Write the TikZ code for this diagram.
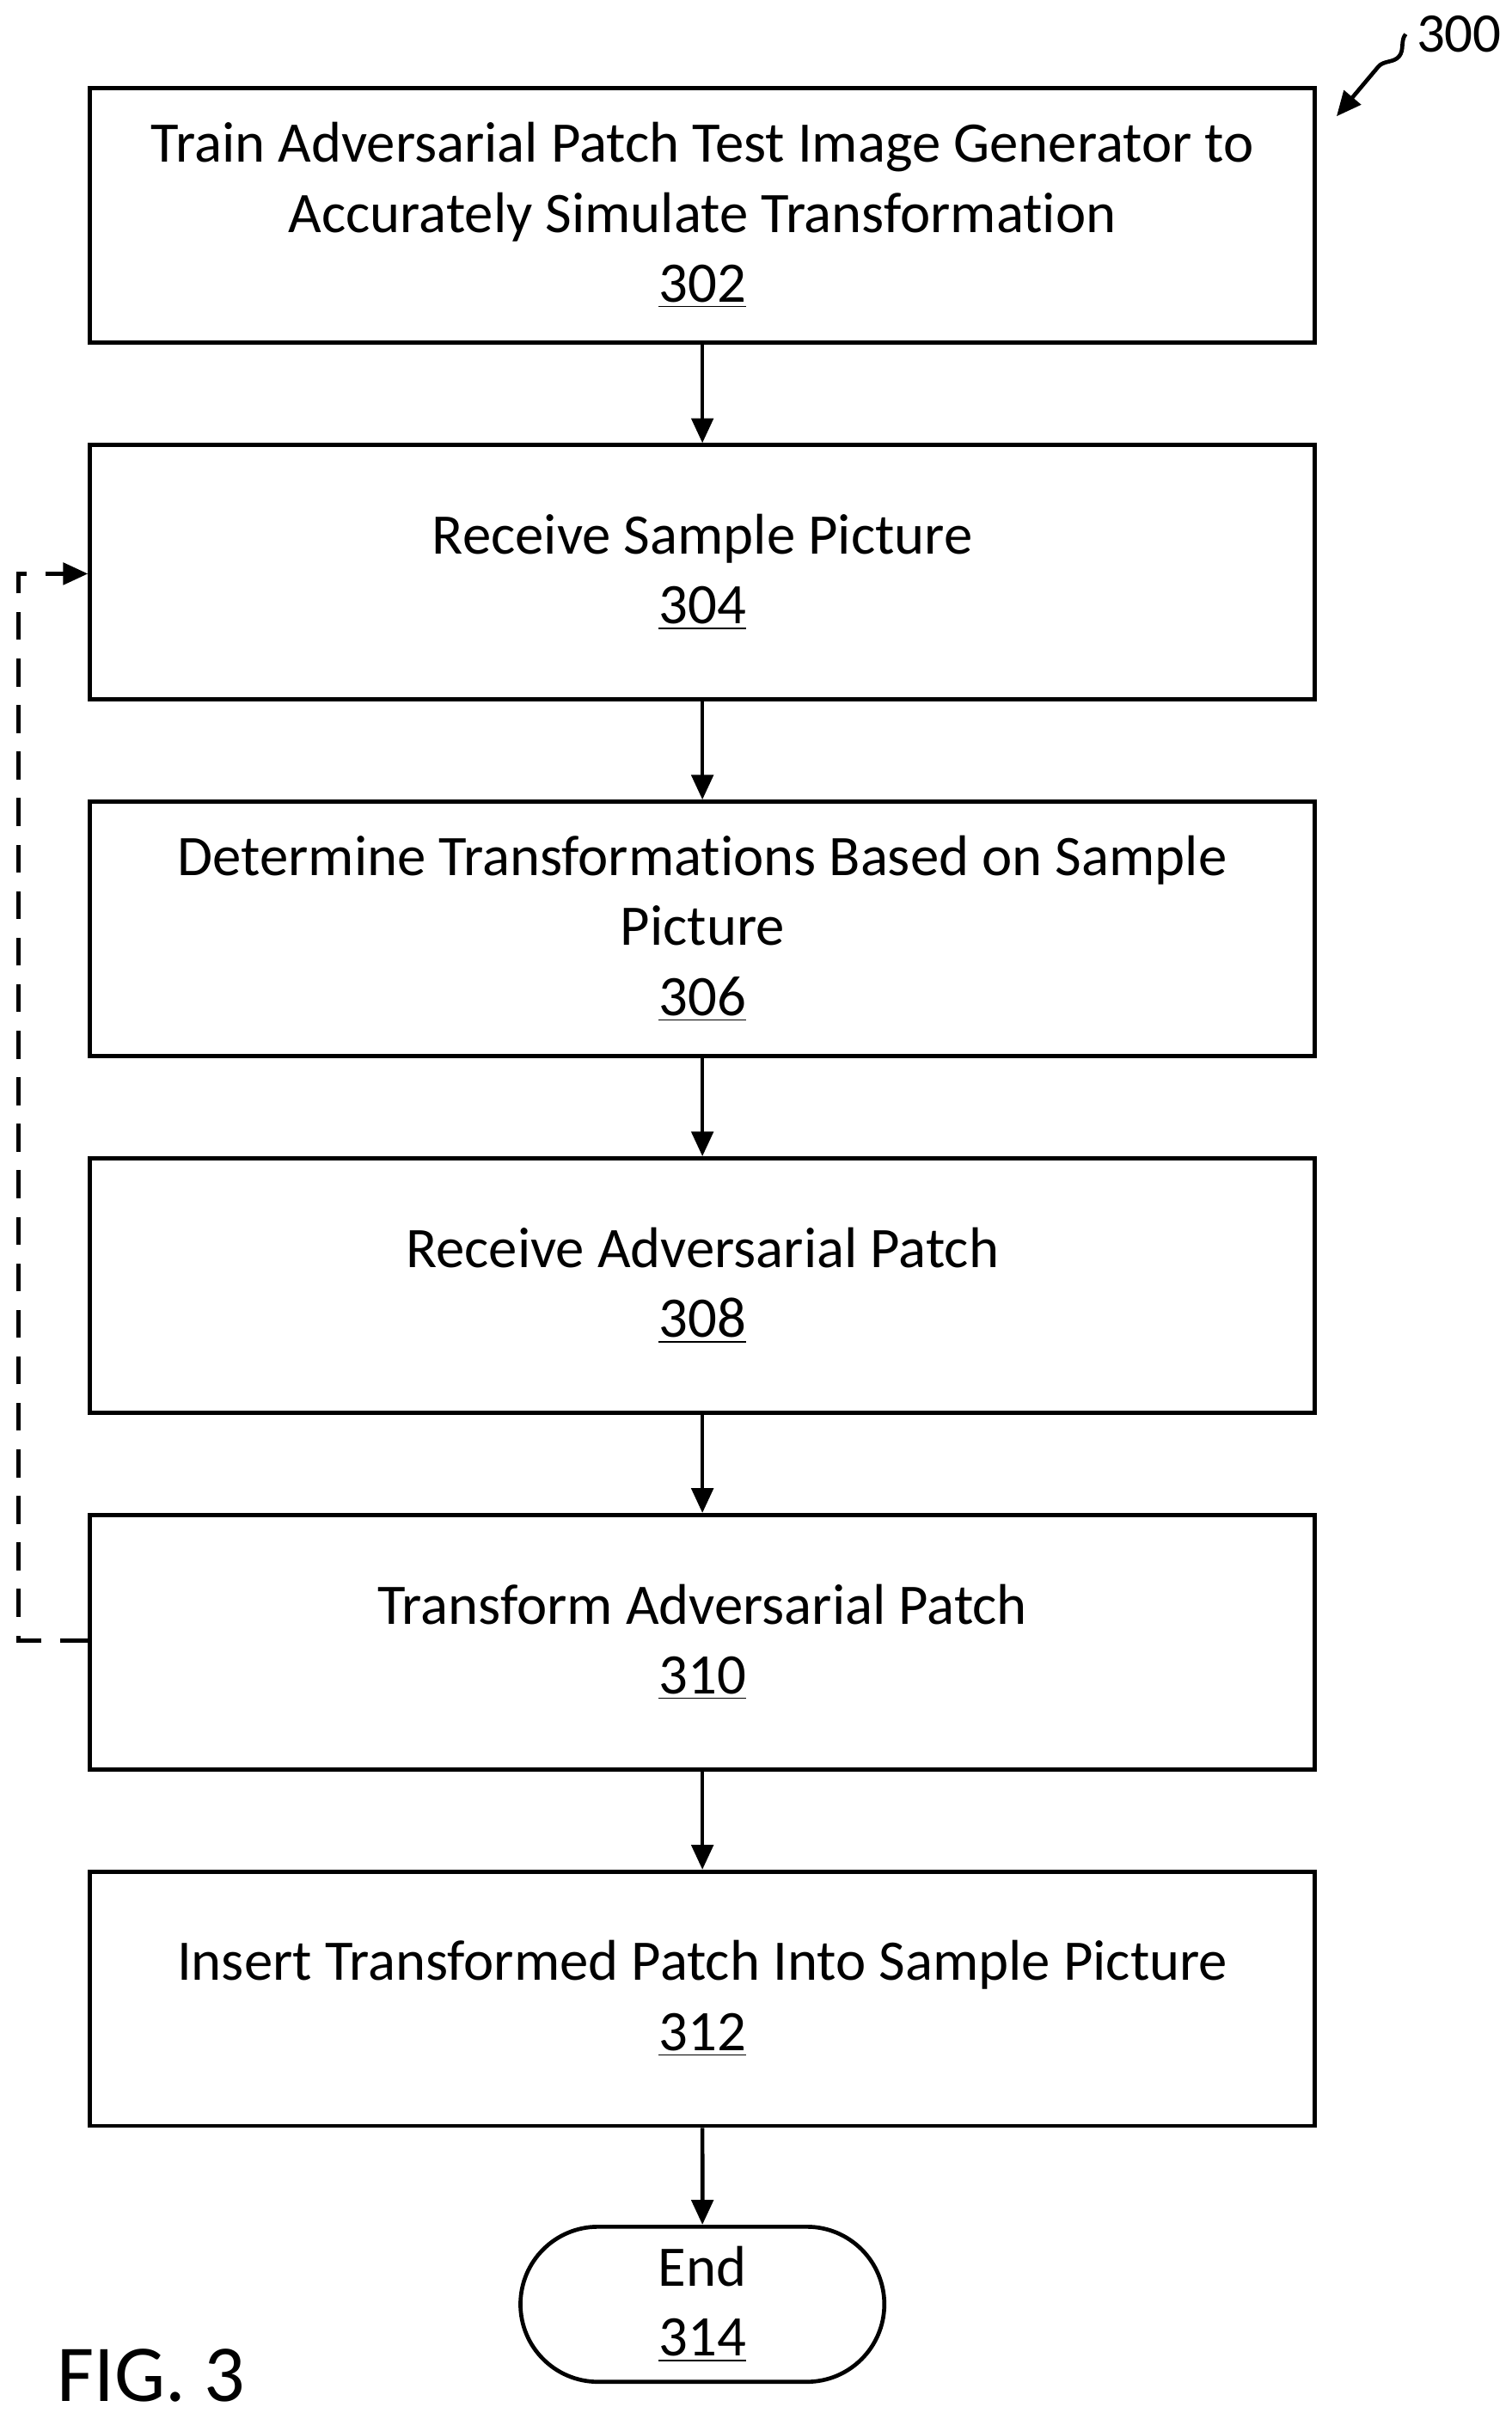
\documentclass[tikz,border=0pt]{standalone}
\usepackage{fontspec}
\setmainfont[Ligatures={NoCommon}]{Carlito}
\usetikzlibrary{arrows.meta,shapes.misc,decorations.pathmorphing}
\begin{document}
\begin{tikzpicture}[x=0.5pt,y=-0.5pt,
  box/.style={draw,line width=1.3pt,minimum width=395pt,minimum height=82pt,align=center,font=\fontsize{18.5}{22.5}\selectfont},
  arr/.style={-{Triangle[length=8pt,width=7pt]},line width=1.3pt}]
\useasboundingbox (0,0) rectangle (975,1560);
\node[box] (b1) at (453,139) {Train Adversarial Patch Test Image Generator to\\Accurately Simulate Transformation\\\underline{302}};
\node[box] (b2) at (453,369) {Receive Sample Picture\\\underline{304}};
\node[box] (b3) at (453,599) {Determine Transformations Based on Sample\\Picture\\\underline{306}};
\node[box] (b4) at (453,829) {Receive Adversarial Patch\\\underline{308}};
\node[box] (b5) at (453,1059) {Transform Adversarial Patch\\\underline{310}};
\node[box] (b6) at (453,1289) {Insert Transformed Patch Into Sample Picture\\\underline{312}};
\node[draw,line width=1.3pt,rounded rectangle,minimum width=124pt,minimum height=50pt,align=center,font=\fontsize{18.5}{22.5}\selectfont] (e) at (453,1486) {End\\\underline{314}};
\foreach \a/\b in {b1/b2,b2/b3,b3/b4,b4/b5,b5/b6,b6/e} \draw[arr] (\a) -- (\b);
\coordinate (c1) at (12,1058);
\coordinate (c2) at (12,370);
\draw[arr,dashed,dash pattern=on 9pt off 6pt] (b5.west |- c1) -- (c1) -- (c2) -- (b2.west |- c2);
\node[font=\fontsize{18}{20}\selectfont] (n300) at (941,22) {300};
\draw[arr,decorate,decoration={snake,amplitude=3pt,segment length=22pt,post length=12pt}] (n300.west) -- (862,75);
\node[anchor=west,font=\fontsize{26}{28}\selectfont] (fig) at (30,1532) {FIG. 3};
\end{tikzpicture}
\end{document}
